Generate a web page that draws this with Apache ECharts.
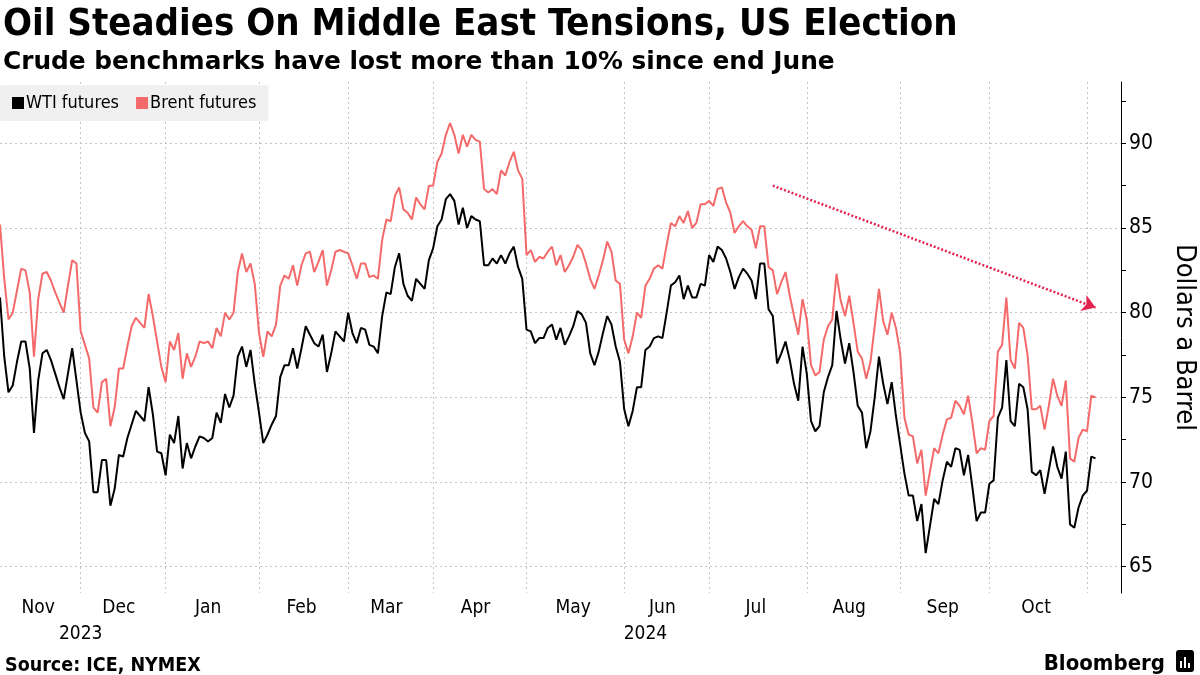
<!DOCTYPE html>
<html><head><meta charset="utf-8">
<script src="https://cdn.jsdelivr.net/npm/echarts@6/dist/echarts.min.js"></script>
<style>html,body{margin:0;padding:0;background:#fff}#c{width:1200px;height:675px}</style>
</head><body><div id="c"></div>
<script>
// ---------- DATA ----------
// Trading days: every weekday from 2023-11-06 to 2024-11-13, except these closures
const firstDay = '2023-11-06';
const lastDay = '2024-11-13';
const closedDays = ['2023-12-25', '2024-01-01', '2024-03-29'];
const monthNames = ['Jan','Feb','Mar','Apr','May','Jun','Jul','Aug','Sep','Oct','Nov','Dec'];

const wtiNov23 = [80.9, 77.4, 75.3, 75.7, 77.1, 78.3, 78.3, 76.7, 72.9, 76.0, 77.6, 77.8, 77.2, 76.4, 75.6, 74.9, 76.4, 77.9, 76.0];
const wtiDec23 = [74.1, 72.9, 72.4, 69.4, 69.4, 71.3, 71.3, 68.6, 69.6, 71.6, 71.5, 72.6, 73.4, 74.2, 73.9, 73.6, 75.6, 74.0, 71.8, 71.7];
const wtiJan24 = [70.4, 72.8, 72.3, 73.9, 70.8, 72.3, 71.4, 72.1, 72.7, 72.6, 72.4, 72.6, 74.1, 73.5, 75.2, 74.4, 75.1, 77.4, 78.0, 76.8, 77.8, 75.8];
const wtiFeb24 = [74.1, 72.3, 72.8, 73.4, 73.9, 76.2, 76.9, 76.9, 77.9, 76.7, 77.9, 79.2, 78.7, 78.2, 78.0, 78.7, 76.5, 77.6, 78.9, 78.6, 78.3];
const wtiMar24 = [80.0, 78.8, 78.2, 79.1, 79.0, 78.1, 78.0, 77.6, 79.8, 81.2, 81.1, 82.7, 83.5, 81.7, 81.0, 80.7, 82.0, 81.7, 81.4, 83.1];
const wtiApr24 = [83.8, 85.1, 85.5, 86.7, 87.0, 86.6, 85.2, 86.2, 85.0, 85.7, 85.5, 85.4, 82.8, 82.8, 83.2, 82.9, 83.4, 82.9, 83.5, 83.9, 82.7, 82.0];
const wtiMay24 = [79.0, 78.9, 78.2, 78.5, 78.5, 79.1, 79.3, 78.4, 79.1, 78.1, 78.6, 79.2, 80.1, 79.9, 79.4, 77.6, 76.9, 77.7, 78.8, 79.8, 79.3, 78.0, 77.1];
const wtiJun24 = [74.3, 73.3, 74.2, 75.6, 75.6, 77.8, 78.0, 78.5, 78.6, 78.5, 80.0, 81.6, 81.8, 82.2, 80.8, 81.6, 80.9, 80.9, 81.7, 81.6];
const wtiJul24 = [83.4, 83.0, 83.9, 83.7, 83.2, 82.4, 81.4, 82.1, 82.6, 82.3, 81.9, 80.8, 82.9, 82.9, 80.2, 79.8, 77.0, 77.6, 78.3, 77.2, 75.8, 74.8, 78.0];
const wtiAug24 = [76.4, 73.6, 73.0, 73.3, 75.3, 76.2, 76.9, 80.1, 78.4, 77.0, 78.2, 76.5, 74.5, 74.1, 72.0, 73.0, 75.0, 77.4, 75.8, 74.6, 75.9, 73.9];
const wtiSep24 = [72.2, 70.5, 69.2, 69.2, 67.7, 68.7, 65.8, 67.4, 69.0, 68.7, 70.1, 71.2, 70.9, 72.0, 71.9, 70.4, 71.6, 69.7, 67.7, 68.2, 68.2];
const wtiOct24 = [69.9, 70.1, 73.8, 74.4, 77.2, 73.6, 73.3, 75.8, 75.6, 74.3, 70.6, 70.4, 70.7, 69.3, 70.7, 72.1, 70.9, 70.2, 71.8, 67.5, 67.3, 68.5, 69.2];
const wtiNov24 = [69.5, 71.5, 71.4];

const brentNov23 = [85.2, 82.0, 79.6, 80.0, 81.3, 82.6, 82.5, 81.2, 77.4, 80.8, 82.3, 82.4, 81.9, 81.2, 80.6, 80.0, 81.6, 83.1, 82.9];
const brentDec23 = [78.9, 78.1, 77.3, 74.4, 74.1, 75.9, 76.1, 73.3, 74.4, 76.7, 76.7, 78.0, 79.2, 79.7, 79.4, 79.1, 81.1, 79.8, 78.3, 76.8];
const brentJan24 = [75.9, 78.3, 77.8, 78.8, 76.1, 77.6, 76.8, 77.4, 78.3, 78.2, 78.3, 77.9, 79.1, 78.6, 80.0, 79.6, 80.0, 82.4, 83.5, 82.4, 82.9, 81.7];
const brentFeb24 = [78.8, 77.4, 78.9, 78.6, 79.3, 81.6, 82.2, 82.0, 82.8, 81.6, 82.8, 83.5, 83.6, 82.4, 83.0, 83.7, 81.6, 82.5, 83.6, 83.7, 83.6];
const brentMar24 = [83.5, 82.8, 82.0, 82.9, 82.9, 82.1, 82.2, 82.0, 84.3, 85.5, 85.4, 86.9, 87.4, 86.1, 85.9, 85.5, 86.8, 86.4, 86.1, 87.5];
const brentApr24 = [87.5, 88.9, 89.4, 90.5, 91.2, 90.5, 89.4, 90.5, 89.8, 90.5, 90.2, 90.1, 87.3, 87.1, 87.3, 87.0, 88.4, 88.1, 88.9, 89.5, 88.4, 87.9];
const brentMay24 = [83.4, 83.7, 83.0, 83.3, 83.2, 83.6, 83.9, 82.8, 83.4, 82.4, 82.8, 83.3, 84.0, 83.7, 82.9, 82.0, 81.4, 82.2, 83.1, 84.2, 83.6, 81.9, 81.7];
const brentJun24 = [78.4, 77.6, 78.6, 80.0, 79.7, 81.6, 82.0, 82.6, 82.8, 82.6, 84.0, 85.3, 85.1, 85.7, 85.3, 86.0, 85.0, 85.3, 86.4, 86.4];
const brentJul24 = [86.6, 86.3, 87.3, 87.4, 86.5, 85.9, 84.7, 85.1, 85.4, 85.1, 84.9, 83.8, 85.1, 85.1, 82.7, 82.5, 81.1, 81.8, 82.4, 81.0, 79.8, 78.7, 80.8];
const brentAug24 = [79.6, 76.9, 76.3, 76.5, 78.4, 79.2, 79.6, 82.3, 80.7, 79.8, 81.0, 79.4, 77.7, 77.3, 76.1, 77.1, 79.2, 81.4, 79.5, 78.7, 80.0, 79.1];
const brentSep24 = [77.6, 73.8, 72.8, 72.7, 71.1, 71.9, 69.2, 70.6, 72.0, 71.7, 72.8, 73.7, 73.8, 74.8, 74.5, 74.0, 75.1, 73.5, 71.7, 72.0, 71.9];
const brentOct24 = [73.6, 73.9, 77.7, 78.1, 80.9, 77.2, 76.7, 79.4, 79.1, 77.5, 74.3, 74.3, 74.5, 73.1, 74.5, 76.1, 75.1, 74.5, 76.0, 71.4, 71.2, 72.6, 73.1];
const brentNov24 = [73.0, 75.1, 75.0];

// Trend arrow annotation (date, price)
const arrowStart = ['2024-07-22', 87.5];
const arrowEnd = ['2024-11-05', 80.3];

const yTickValues = [65, 67.5, 70, 72.5, 75, 77.5, 80, 82.5, 85, 87.5, 90, 92.5];
const yLabelValues = [65, 70, 75, 80, 85, 90];
const yMin = 63.45, yMax = 93.62;

// ---------- BUILD ----------
const wti = [].concat(wtiNov23, wtiDec23, wtiJan24, wtiFeb24, wtiMar24, wtiApr24, wtiMay24, wtiJun24, wtiJul24, wtiAug24, wtiSep24, wtiOct24, wtiNov24);
const brent = [].concat(brentNov23, brentDec23, brentJan24, brentFeb24, brentMar24, brentApr24, brentMay24, brentJun24, brentJul24, brentAug24, brentSep24, brentOct24, brentNov24);

const dates = [];
(function () {
  const p = s => { const a = s.split('-').map(Number); return Date.UTC(a[0], a[1] - 1, a[2]); };
  for (let t = p(firstDay); t <= p(lastDay); t += 86400000) {
    const d = new Date(t);
    const wd = d.getUTCDay();
    const s = d.toISOString().slice(0, 10);
    if (wd === 0 || wd === 6 || closedDays.indexOf(s) >= 0) continue;
    dates.push(s);
  }
})();
const ym = s => s.slice(0, 7);
const monthStart = dates.map((d, i) => i > 0 && ym(d) !== ym(dates[i - 1]));
const monthLabelIdx = {};
const yearLabelIdx = {};
(function () {
  const groups = {}, ygroups = {};
  dates.forEach((d, i) => {
    (groups[ym(d)] = groups[ym(d)] || []).push(i);
    (ygroups[d.slice(0, 4)] = ygroups[d.slice(0, 4)] || []).push(i);
  });
  Object.keys(groups).forEach(k => {
    const g = groups[k];
    if (g.length >= 15) monthLabelIdx[Math.floor((g[0] + g[g.length - 1]) / 2)] = monthNames[+k.slice(5, 7) - 1];
  });
  Object.keys(ygroups).forEach(k => {
    const g = ygroups[k];
    yearLabelIdx[Math.round((g[0] + g[g.length - 1]) / 2)] = k;
  });
})();

const FONT = "'DejaVu Sans Condensed','Liberation Sans Narrow','DejaVu Sans',sans-serif";
const FONT_WIDE = "'DejaVu Sans',sans-serif";
const RED = '#f46a6a';
const gridLine = { color: '#c4c4c4', width: 1, type: [2, 3] };

const chart = echarts.init(document.getElementById('c'), null, { renderer: 'canvas' });
chart.setOption({
  animation: false,
  backgroundColor: '#ffffff',
  textStyle: { fontFamily: FONT },
  title: [
    { text: 'Oil Steadies On Middle East Tensions, US Election', left: -2, top: 1,
      textStyle: { fontFamily: FONT, fontSize: 38, fontWeight: 'bold', color: '#000' } },
    { text: 'Crude benchmarks have lost more than 10% since end June', left: -2, top: 45,
      textStyle: { fontFamily: FONT_WIDE, fontSize: 24.8, fontWeight: 'bold', color: '#000' } },
    { text: 'Source: ICE, NYMEX', left: 0, top: 651,
      textStyle: { fontFamily: FONT, fontSize: 19.5, fontWeight: 'bold', color: '#000' } },
    { text: 'Bloomberg', right: 30, top: 648,
      textStyle: { fontFamily: FONT, fontSize: 22, fontWeight: 'bold', color: '#000' } }
  ],
  graphic: [
    { type: 'group', right: 6, top: 650, children: [
      { type: 'rect', shape: { x: 0, y: 0, width: 18, height: 22, r: 3 }, style: { fill: '#000' } },
      { type: 'rect', shape: { x: 4, y: 11, width: 2, height: 7 }, style: { fill: '#fff' } },
      { type: 'rect', shape: { x: 8, y: 7, width: 2, height: 11 }, style: { fill: '#fff' } },
      { type: 'rect', shape: { x: 12, y: 13, width: 2, height: 5 }, style: { fill: '#fff' } }
    ] }
  ],
  legend: {
    left: 0, top: 85, padding: [9, 12, 9, 12], itemGap: 17,
    backgroundColor: '#f0f0f0', borderRadius: 2,
    icon: 'rect', itemWidth: 12, itemHeight: 12,
    textStyle: { fontFamily: FONT, fontSize: 18, color: '#000', padding: [0, 0, 0, -3] },
    data: ['WTI futures', 'Brent futures']
  },
  grid: { left: 0, right: 79, top: 82, bottom: 82, containLabel: false, outerBoundsMode: 'none' },
  xAxis: [
    {
      type: 'category', data: dates, boundaryGap: false,
      axisLine: { show: false }, axisTick: { show: false },
      splitLine: { show: true, interval: i => monthStart[i], lineStyle: gridLine },
      axisLabel: { interval: i => monthLabelIdx[i] !== undefined, formatter: (v, i) => monthLabelIdx[i] || '',
        fontFamily: FONT, fontSize: 19, color: '#000', margin: 6 }
    },
    {
      type: 'category', data: dates, boundaryGap: false, position: 'bottom', offset: 26,
      axisLine: { show: false }, axisTick: { show: false }, splitLine: { show: false },
      axisLabel: { interval: i => yearLabelIdx[i] !== undefined, formatter: (v, i) => yearLabelIdx[i] || '',
        fontFamily: FONT, fontSize: 19, color: '#000', margin: 6 }
    }
  ],
  yAxis: [
    {
      type: 'value', position: 'right', min: yMin, max: yMax,
      axisLine: { show: true, lineStyle: { color: '#000', width: 1 } },
      axisTick: { show: true, inside: false, length: 5, customValues: yTickValues, lineStyle: { color: '#000' } },
      axisLabel: { customValues: yLabelValues, fontFamily: FONT, fontSize: 21, color: '#000', margin: 8 },
      splitLine: { show: false },
      name: 'Dollars a Barrel', nameLocation: 'middle', nameRotate: -90, nameGap: 50,
      nameTextStyle: { fontFamily: FONT, fontSize: 27, color: '#000' }
    },
    {
      type: 'value', position: 'right', min: yMin, max: yMax, splitNumber: 6,
      axisLine: { show: false }, axisTick: { show: false }, axisLabel: { show: false },
      splitLine: { show: true, showMinLine: false, showMaxLine: false, lineStyle: gridLine }
    }
  ],
  series: [
    { name: 'WTI futures', type: 'line', data: wti, showSymbol: false, symbol: 'none',
      itemStyle: { color: '#000' }, lineStyle: { color: '#000', width: 2 }, z: 3 },
    { name: 'Brent futures', type: 'line', data: brent, showSymbol: false, symbol: 'none',
      itemStyle: { color: RED }, lineStyle: { color: RED, width: 2 }, z: 2,
      markLine: {
        silent: true, symbol: ['none', 'arrow'], symbolSize: 13, label: { show: false },
        lineStyle: { color: '#e3234f', width: 2.5, type: [2, 2] },
        data: [[{ coord: arrowStart }, { coord: arrowEnd }]]
      } }
  ]
});
</script></body></html>
